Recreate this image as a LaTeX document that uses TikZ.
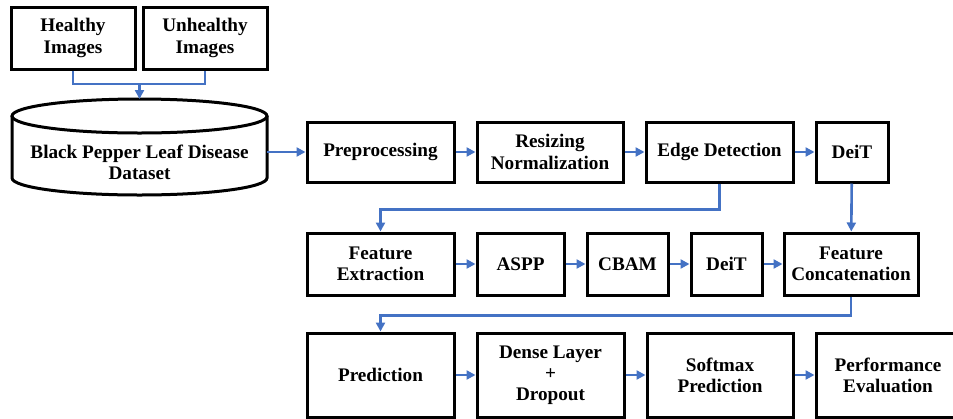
\documentclass[tikz,border=0pt]{standalone}
\usepackage{fontspec}
\setmainfont{Liberation Serif}[BoldFont={Liberation Serif Bold}]
\usetikzlibrary{arrows.meta}
\definecolor{arrowblue}{RGB}{68,114,196}
\begin{document}
\begin{tikzpicture}[x=0.5pt,y=0.5pt,
  box/.style={draw=black, line width=1.5pt, rectangle, align=center,
    font=\fontsize{9.6}{10.6}\selectfont\bfseries, inner sep=0pt},
  conn/.style={draw=arrowblue, line width=1.3pt},
  arr/.style={conn, -{Triangle[length=4.5pt,width=4.5pt]}}]
\clip (0,0) rectangle (953,-418);
\useasboundingbox (0,0) rectangle (953,-418);
% top inputs
\node[box, minimum width=62pt, minimum height=31pt] (hl) at (73,-38) {Healthy\\Images};
\node[box, minimum width=62pt, minimum height=31pt] (uh) at (205,-38) {Unhealthy\\Images};
% cylinder
\draw[line width=1.5pt] (139.5,-116) ellipse [x radius=63.75pt, y radius=8.5pt];
\draw[line width=1.5pt] (12,-116) -- (12,-178)
  arc[start angle=180, end angle=360, x radius=63.75pt, y radius=8.5pt] -- (267,-116);
\node[font=\fontsize{9.6}{10.6}\selectfont\bfseries, align=center, minimum width=127.5pt, minimum height=31pt, inner sep=0pt] (ds) at (139.5,-162) {Black Pepper Leaf Disease\\Dataset};
\coordinate (dstop) at (139.5,-99);
\coordinate (j) at (139.5,-84);
% row 1
\node[box, minimum width=73.5pt, minimum height=30pt] (pre) at (380.5,-152) {Preprocessing};
\node[box, minimum width=73pt, minimum height=30pt] (res) at (550,-152) {Resizing\\Normalization};
\node[box, minimum width=73.5pt, minimum height=30pt] (edge) at (719.5,-152) {Edge Detection};
\node[box, minimum width=36pt, minimum height=30pt] (deit1) at (852,-152) {DeiT};
% row 2
\node[box, minimum width=73.5pt, minimum height=31pt] (fe) at (380.5,-264) {Feature\\Extraction};
\node[box, minimum width=43.5pt, minimum height=31pt] (aspp) at (520.5,-264) {ASPP};
\node[box, minimum width=40.5pt, minimum height=31pt] (cbam) at (627.5,-264) {CBAM};
\node[box, minimum width=35.5pt, minimum height=31pt] (deit2) at (726.5,-264) {DeiT};
\node[box, minimum width=67pt, minimum height=31pt] (fc) at (851,-264) {Feature\\Concatenation};
% row 3
\node[box, minimum width=73.5pt, minimum height=42pt] (pred) at (380.5,-375) {Prediction};
\node[box, minimum width=73.5pt, minimum height=42pt] (dense) at (550.5,-375) {Dense Layer\\+\\Dropout};
\node[box, minimum width=73pt, minimum height=42pt] (soft) at (720,-375) {Softmax\\Prediction};
\node[box, minimum width=72pt, minimum height=42pt] (perf) at (888,-375) {Performance\\Evaluation};
% connectors
\draw[conn] (hl.south) |- (j) -| (uh.south);
\draw[arr] (j) -- (dstop);
\draw[arr] (ds.east |- pre.west) -- (pre.west);
\draw[arr] (pre) -- (res);
\draw[arr] (res) -- (edge);
\draw[arr] (edge) -- (deit1);
\draw[arr] (edge.south) -- ++(0,-26) -| (fe.north);
\draw[arr] (deit1) -- (fc);
\draw[arr] (fe) -- (aspp);
\draw[arr] (aspp) -- (cbam);
\draw[arr] (cbam) -- (deit2);
\draw[arr] (deit2) -- (fc);
\draw[arr] (fc.south) -- ++(0,-19) -| (pred.north);
\draw[arr] (pred) -- (dense);
\draw[arr] (dense) -- (soft);
\draw[arr] (soft) -- (perf);
\end{tikzpicture}
\end{document}
